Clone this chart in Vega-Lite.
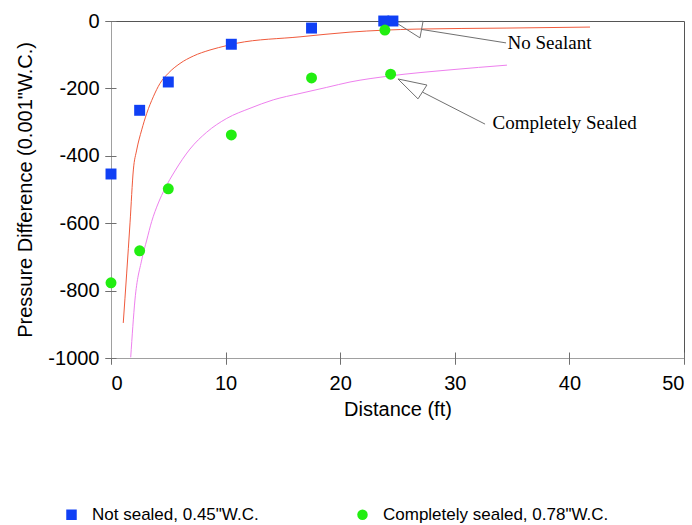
{
  "$schema": "https://vega.github.io/schema/vega-lite/v6.json",
  "autosize": "none",
  "width": 573,
  "height": 337,
  "padding": {"left": 111, "top": 21, "right": 8, "bottom": 167},
  "background": "white",
  "config": {
    "view": {"stroke": "#555555", "strokeWidth": 1},
    "font": "Liberation Sans",
    "axis": {
      "grid": false,
      "domainColor": "#a0a0a0",
      "tickColor": "#707070",
      "labelFont": "Liberation Sans",
      "labelFontSize": 20,
      "labelColor": "#000000",
      "titleFont": "Liberation Sans",
      "titleFontSize": 20,
      "titleFontWeight": "normal",
      "titleColor": "#000000"
    }
  },
  "resolve": {"axis": {"x": "independent", "y": "independent"}},
  "datasets": {
    "pts": [
      {"series": "Not sealed, 0.45\"W.C.", "x": 0, "y": -454},
      {"series": "Not sealed, 0.45\"W.C.", "x": 2.5, "y": -265},
      {"series": "Not sealed, 0.45\"W.C.", "x": 5, "y": -181},
      {"series": "Not sealed, 0.45\"W.C.", "x": 10.5, "y": -69},
      {"series": "Not sealed, 0.45\"W.C.", "x": 17.5, "y": -21},
      {"series": "Not sealed, 0.45\"W.C.", "x": 23.8, "y": 0},
      {"series": "Not sealed, 0.45\"W.C.", "x": 24.6, "y": 0},
      {"series": "Completely sealed, 0.78\"W.C.", "x": 0, "y": -777},
      {"series": "Completely sealed, 0.78\"W.C.", "x": 2.5, "y": -682},
      {"series": "Completely sealed, 0.78\"W.C.", "x": 5, "y": -498},
      {"series": "Completely sealed, 0.78\"W.C.", "x": 10.5, "y": -338},
      {"series": "Completely sealed, 0.78\"W.C.", "x": 17.5, "y": -169},
      {"series": "Completely sealed, 0.78\"W.C.", "x": 23.9, "y": -27},
      {"series": "Completely sealed, 0.78\"W.C.", "x": 24.4, "y": -158}
    ],
    "fitNo": [
      {"x": 1.07, "y": -896},
      {"x": 1.37, "y": -748},
      {"x": 1.66, "y": -599},
      {"x": 1.95, "y": -442},
      {"x": 2.24, "y": -383},
      {"x": 2.68, "y": -323},
      {"x": 3.12, "y": -274},
      {"x": 3.69, "y": -225},
      {"x": 4.28, "y": -185},
      {"x": 5.0, "y": -155},
      {"x": 6.02, "y": -126},
      {"x": 7.18, "y": -104},
      {"x": 8.64, "y": -86},
      {"x": 10.1, "y": -73},
      {"x": 10.97, "y": -66},
      {"x": 16.49, "y": -47},
      {"x": 20.86, "y": -33},
      {"x": 26.7, "y": -24},
      {"x": 34.55, "y": -21},
      {"x": 41.8, "y": -18}
    ],
    "fitSealed": [
      {"x": 1.72, "y": -998},
      {"x": 2.09, "y": -828},
      {"x": 2.68, "y": -709},
      {"x": 3.12, "y": -650},
      {"x": 3.55, "y": -595},
      {"x": 4.13, "y": -540},
      {"x": 4.71, "y": -497},
      {"x": 5.58, "y": -445},
      {"x": 6.89, "y": -380},
      {"x": 8.35, "y": -330},
      {"x": 10.1, "y": -289},
      {"x": 12.13, "y": -259},
      {"x": 14.16, "y": -234},
      {"x": 16.49, "y": -215},
      {"x": 18.82, "y": -197},
      {"x": 20.86, "y": -181},
      {"x": 24.35, "y": -163},
      {"x": 29.58, "y": -145},
      {"x": 34.55, "y": -131}
    ],
    "arrows": [
      {"shape": "a1", "o": 1, "x": 24.78, "y": -3},
      {"shape": "a1", "o": 2, "x": 27.23, "y": -1},
      {"shape": "a1", "o": 3, "x": 26.96, "y": -50},
      {"shape": "a1", "o": 4, "x": 24.78, "y": -3},
      {"shape": "l1", "o": 1, "x": 27.09, "y": -25},
      {"shape": "l1", "o": 2, "x": 34.47, "y": -65},
      {"shape": "a2", "o": 1, "x": 25.04, "y": -172},
      {"shape": "a2", "o": 2, "x": 27.57, "y": -190},
      {"shape": "a2", "o": 3, "x": 26.79, "y": -231},
      {"shape": "a2", "o": 4, "x": 25.04, "y": -172},
      {"shape": "l2", "o": 1, "x": 27.18, "y": -211},
      {"shape": "l2", "o": 2, "x": 32.64, "y": -306}
    ],
    "labels": [
      {"label": "No Sealant", "x": 34.6, "y": -65},
      {"label": "Completely Sealed", "x": 33.3, "y": -303}
    ]
  },
  "layer": [
    {
      "data": {"name": "fitNo"},
      "mark": {"type": "line", "color": "#f05a3c", "strokeWidth": 1, "interpolate": "monotone"},
      "encoding": {
        "x": {"field": "x", "type": "quantitative", "scale": {"domain": [0, 50], "nice": false},
          "axis": {"orient": "bottom", "title": "Distance (ft)", "values": [0, 10, 20, 30, 40, 50], "tickSize": 6, "labelPadding": 9, "titlePadding": 6}},
        "y": {"field": "y", "type": "quantitative", "scale": {"domain": [-1000, 0], "nice": false},
          "axis": {"orient": "left", "title": "Pressure Difference (0.001\"W.C.)", "values": [-1000, -800, -600, -400, -200, 0], "labelExpr": "'' + datum.value", "tickSize": 6, "labelPadding": 6, "titlePadding": 12}}
      }
    },
    {
      "data": {"name": "fitSealed"},
      "mark": {"type": "line", "color": "#ee80ee", "strokeWidth": 1, "interpolate": "monotone"},
      "encoding": {
        "x": {"field": "x", "type": "quantitative",
          "axis": {"orient": "bottom", "title": null, "labels": false, "domain": false, "values": [0, 10, 20, 30, 40, 50], "tickSize": 12, "offset": -6}},
        "y": {"field": "y", "type": "quantitative",
          "axis": {"orient": "left", "title": null, "labels": false, "domain": false, "values": [-1000, -800, -600, -400, -200, 0], "tickSize": 11, "offset": -5}}
      }
    },
    {
      "data": {"name": "arrows"},
      "mark": {"type": "line", "color": "#707070", "strokeWidth": 1},
      "encoding": {
        "x": {"field": "x", "type": "quantitative", "axis": null},
        "y": {"field": "y", "type": "quantitative", "axis": null},
        "detail": {"field": "shape"},
        "order": {"field": "o"}
      }
    },
    {
      "data": {"name": "pts"},
      "mark": {"type": "point", "filled": true, "opacity": 1},
      "encoding": {
        "x": {"field": "x", "type": "quantitative", "axis": null},
        "y": {"field": "y", "type": "quantitative", "axis": null},
        "color": {"field": "series", "type": "nominal",
          "scale": {"domain": ["Not sealed, 0.45\"W.C.", "Completely sealed, 0.78\"W.C."], "range": ["#1040f5", "#22ee11"]},
          "legend": {"title": null, "orient": "none", "direction": "horizontal", "legendX": -48, "legendY": 485,
            "labelFont": "Liberation Sans", "labelFontSize": 17, "labelColor": "#000000", "symbolSize": 110, "labelOffset": 12, "columnPadding": 95, "labelLimit": 400}},
        "shape": {"field": "series", "type": "nominal",
          "scale": {"domain": ["Not sealed, 0.45\"W.C.", "Completely sealed, 0.78\"W.C."], "range": ["square", "circle"]}},
        "size": {"value": 120}
      }
    },
    {
      "data": {"name": "labels"},
      "mark": {"type": "text", "font": "Liberation Serif", "fontSize": 19, "align": "left", "baseline": "middle", "color": "#000000"},
      "encoding": {
        "x": {"field": "x", "type": "quantitative", "axis": null},
        "y": {"field": "y", "type": "quantitative", "axis": null},
        "text": {"field": "label"}
      }
    }
  ]
}
